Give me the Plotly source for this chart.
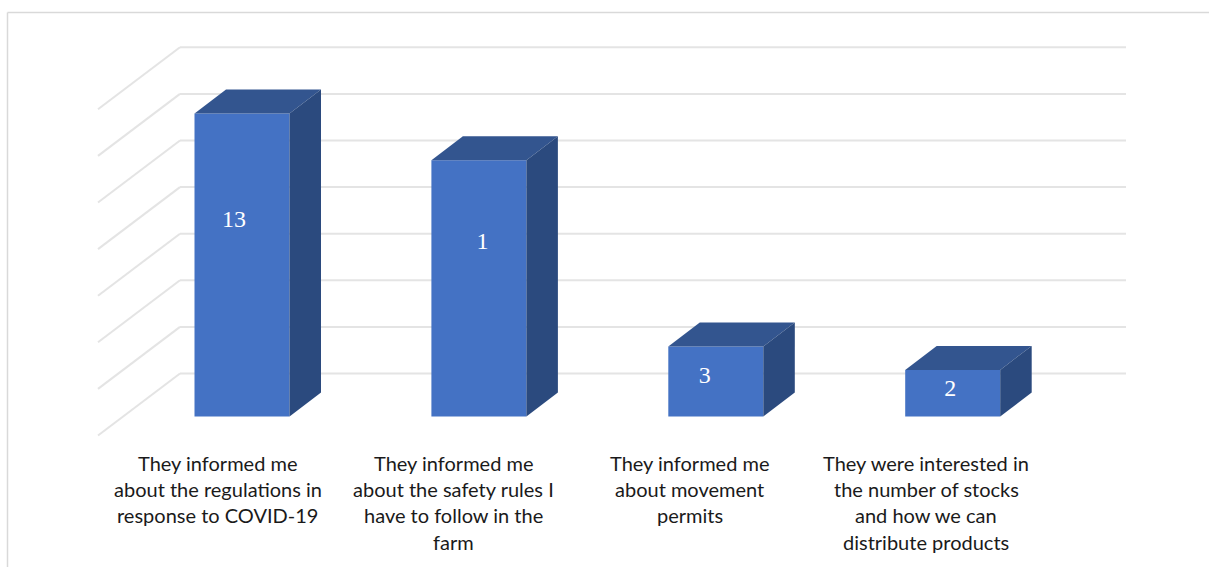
import plotly.graph_objects as go

# Survey responses
category_lines = [
    ["They informed me", "about the regulations in", "response to COVID-19"],
    ["They informed me", "about the safety rules I", "have to follow in the", "farm"],
    ["They informed me", "about movement", "permits"],
    ["They were interested in", "the number of stocks", "and how we can", "distribute products"],
]
values = [13, 11, 3, 2]
value_labels = ["13", "1", "3", "2"]
grid_values = [0, 2, 4, 6, 8, 10, 12, 14]

# Pixel scale of the canvas: one category step and one value unit
W, H = 1209, 567
PX_PER_CAT = 236.9
PX_PER_UNIT = 23.3
X0_PX, Y0_PX = 242.0, 416.5


def cat(px):
    return px / PX_PER_CAT


def unit(px):
    return px / PX_PER_UNIT


# Pseudo-3D geometry
bar_width = cat(95)
depth_x, depth_y = cat(31.5), unit(24)
wall_lift = unit(43)
wall_left, wall_right = cat(180 - X0_PX), cat(1126 - X0_PX)
floor_dx, floor_dy = cat(-82), unit(-62)

FRONT, TOP, SIDE = "#4472C4", "#33558F", "#2B4A7E"
GRID = "#E4E4E4"
FRAME = "#D9D9D9"

positions = list(range(len(values)))

fig = go.Figure()

# Front faces
fig.add_trace(go.Bar(
    x=positions, y=values, width=bar_width, base=0,
    marker=dict(color=FRONT, line=dict(width=0)),
    hoverinfo="skip", showlegend=False,
))

# Top and side faces
for x, v in zip(positions, values):
    left, right = x - bar_width / 2, x + bar_width / 2
    fig.add_trace(go.Scatter(
        x=[left, right, right + depth_x, left + depth_x, left],
        y=[v, v, v + depth_y, v + depth_y, v],
        mode="lines", fill="toself", fillcolor=TOP, line=dict(width=0),
        hoverinfo="skip", showlegend=False,
    ))
    fig.add_trace(go.Scatter(
        x=[right, right + depth_x, right + depth_x, right, right],
        y=[0, depth_y, v + depth_y, v, 0],
        mode="lines", fill="toself", fillcolor=SIDE, line=dict(width=0),
        hoverinfo="skip", showlegend=False,
    ))

# Value labels sit off-centre on the front faces
label_dx = [cat(-8), cat(3.5), cat(-11), cat(-2.5)]
label_y = [unit(195.5), unit(173.5), unit(39.5), unit(26.5)]
fig.add_trace(go.Scatter(
    x=[p + d for p, d in zip(positions, label_dx)], y=label_y,
    mode="text", text=value_labels, textposition="middle center",
    textfont=dict(family="Liberation Serif", size=24, color="#FFFFFF"),
    hoverinfo="skip", showlegend=False,
))

# Back-wall and floor gridlines
shapes = []
for g in grid_values:
    y_back = g + wall_lift
    for x_a, y_a, x_b, y_b in [
        (wall_left, y_back, wall_right, y_back),
        (wall_left, y_back, wall_left + floor_dx, y_back + floor_dy),
    ]:
        shapes.append(dict(
            type="line", layer="below", xref="x", yref="y",
            x0=x_a, y0=y_a, x1=x_b, y1=y_b,
            line=dict(color=GRID, width=2),
        ))

# Chart frame: top and left edges
frame_x, frame_y = 7.5 / W, 1 - 12.5 / H
shapes.append(dict(type="line", xref="paper", yref="paper", x0=frame_x, y0=0, x1=frame_x, y1=frame_y,
                   line=dict(color=FRAME, width=1.5)))
shapes.append(dict(type="line", xref="paper", yref="paper", x0=frame_x, y0=frame_y, x1=1, y1=frame_y,
                   line=dict(color=FRAME, width=1.5)))

# Wrapped category labels, one annotation per line for exact leading
label_centres = [cat(-24.5), 1 + cat(-25), 2 + cat(-26), 3 + cat(-26.5)]
first_line_y = unit(416.5 - 463)
line_step = unit(26.2)
annotations = []
for centre, lines in zip(label_centres, category_lines):
    for i, line in enumerate(lines):
        annotations.append(dict(
            x=centre, y=first_line_y - i * line_step, xref="x", yref="y",
            text=line, showarrow=False, xanchor="center", yanchor="middle",
            font=dict(family="Lato", size=20, color="#1A1A1A"),
        ))

fig.update_layout(
    width=W, height=H, autosize=False,
    margin=dict(l=0, r=0, t=0, b=0),
    paper_bgcolor="#FFFFFF", plot_bgcolor="#FFFFFF",
    showlegend=False, barmode="overlay",
    shapes=shapes, annotations=annotations,
    xaxis=dict(range=[cat(-X0_PX), cat(W - X0_PX)], visible=False, fixedrange=True),
    yaxis=dict(range=[unit(Y0_PX - H), unit(Y0_PX)], visible=False, fixedrange=True),
)

fig.write_html("out.html", config=dict(displayModeBar=False))
